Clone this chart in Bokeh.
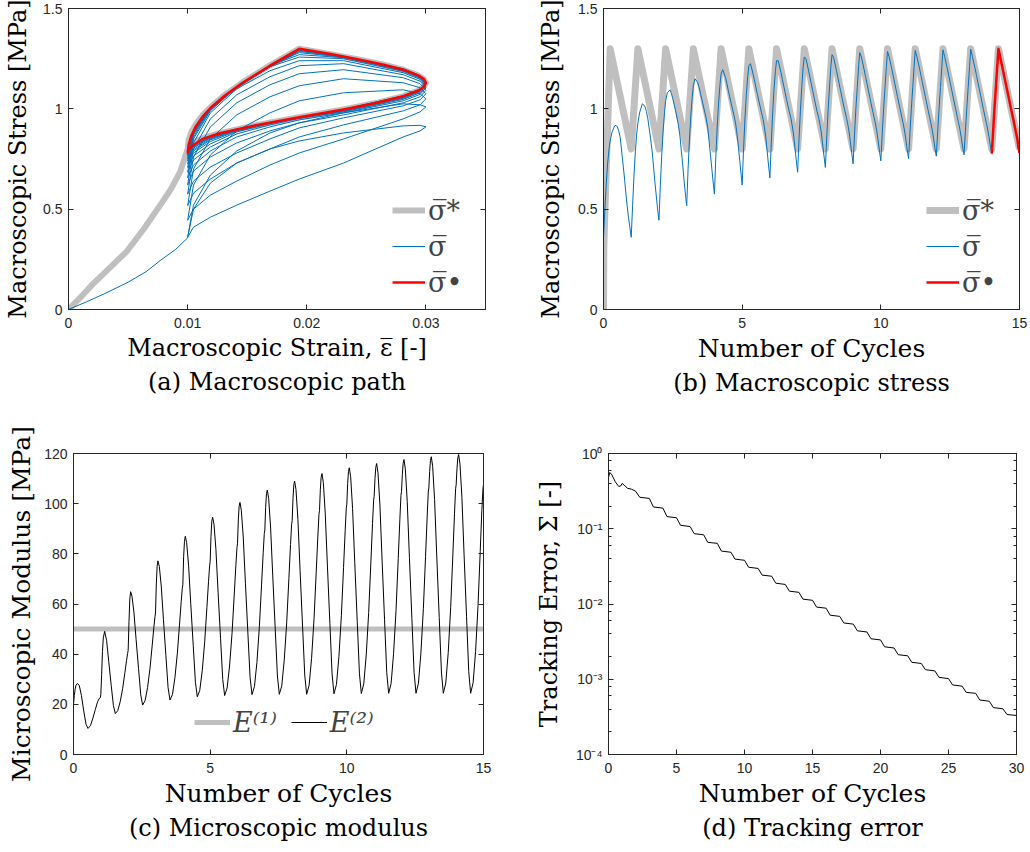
from bokeh.plotting import figure
from bokeh.models import (LinearAxis, LogAxis, FixedTicker, LogTicker, CustomJSTickFormatter,
                          Legend, LegendItem, Title, Range1d)
from bokeh.layouts import column, row
from bokeh.embed import file_html
from bokeh.resources import INLINE

# ---------------- data ----------------
# phase positions inside one loading cycle and the macroscopic strain at each phase
cycle_phase = [0.0, 0.05, 0.10, 0.15, 0.20, 0.24, 0.30, 0.40, 0.45, 0.50, 0.55, 0.60, 0.70, 0.76, 0.80, 0.85, 0.90, 0.95]
cycle_strain = [0.0100, 0.01049, 0.01191, 0.01412, 0.01691, 0.01937, 0.02309, 0.02809, 0.02951, 0.0300,
                0.02951, 0.02809, 0.02309, 0.01937, 0.01691, 0.01412, 0.01191, 0.01049]

# finer sampling of one cycle for the target sigma* and the converged sigma-dot loops
fine_phase = [0.0, 0.02, 0.04, 0.06, 0.08, 0.10, 0.13, 0.16, 0.20, 0.24, 0.28, 0.32, 0.36, 0.40, 0.44,
              0.47, 0.50, 0.53, 0.56, 0.60, 0.65, 0.70, 0.76, 0.82, 0.88, 0.92, 0.95, 0.98, 1.0]
fine_strain = [0.0100, 0.01008, 0.01031, 0.01070, 0.01124, 0.01191, 0.01316, 0.01464, 0.01691, 0.01937,
               0.02187, 0.02426, 0.02637, 0.02809, 0.02930, 0.02982, 0.0300, 0.02982, 0.02930, 0.02809,
               0.02588, 0.02309, 0.01937, 0.01574, 0.01271, 0.01124, 0.01049, 0.01008, 0.0100]
target_fine = [0.800, 0.842, 0.883, 0.925, 0.967, 1.008, 1.071, 1.133, 1.217, 1.300, 1.274, 1.247, 1.221,
               1.195, 1.168, 1.149, 1.129, 1.109, 1.089, 1.063, 1.030, 0.997, 0.958, 0.918, 0.879, 0.853,
               0.833, 0.813, 0.800]
converged_fine = [0.777, 0.820, 0.866, 0.914, 0.960, 1.004, 1.068, 1.131, 1.215, 1.299, 1.274, 1.247, 1.221,
                  1.195, 1.168, 1.149, 1.129, 1.109, 1.089, 1.063, 1.030, 0.997, 0.958, 0.918, 0.878, 0.850,
                  0.820, 0.795, 0.780]

# initial loading branch (strain 0 -> 0.01)
init_strain_target = [0.0, 0.0010, 0.0021, 0.0035, 0.0049, 0.0063, 0.0077, 0.0086, 0.0094, 0.0100]
init_stress_target = [0.0, 0.06, 0.13, 0.21, 0.29, 0.40, 0.52, 0.60, 0.69, 0.80]
init_strain_blue = [0.0, 0.0015, 0.0030, 0.0050, 0.0065, 0.0077, 0.0090, 0.0100]
init_stress_blue = [0.0, 0.038, 0.078, 0.136, 0.188, 0.244, 0.300, 0.357]

# macroscopic stress sigma, one row per cycle (cycles 0..13), at cycle_phase
stress_cycles = [
    [0.360, 0.50, 0.63, 0.73, 0.80, 0.84, 0.88, 0.915, 0.918, 0.910, 0.890, 0.860, 0.730, 0.650, 0.590, 0.520, 0.460, 0.410],
    [0.360, 0.52, 0.67, 0.79, 0.88, 0.93, 0.98, 1.025, 1.020, 1.010, 0.985, 0.950, 0.850, 0.780, 0.720, 0.640, 0.570, 0.500],
    [0.445, 0.62, 0.77, 0.89, 0.98, 1.04, 1.08, 1.095, 1.075, 1.050, 1.020, 0.990, 0.920, 0.860, 0.800, 0.730, 0.650, 0.580],
    [0.517, 0.70, 0.85, 0.97, 1.06, 1.115, 1.15, 1.130, 1.105, 1.075, 1.045, 1.015, 0.955, 0.905, 0.850, 0.780, 0.710, 0.640],
    [0.575, 0.76, 0.91, 1.03, 1.12, 1.175, 1.195, 1.155, 1.125, 1.092, 1.060, 1.030, 0.970, 0.930, 0.890, 0.830, 0.760, 0.690],
    [0.620, 0.80, 0.95, 1.07, 1.16, 1.215, 1.225, 1.170, 1.138, 1.104, 1.072, 1.040, 0.980, 0.945, 0.910, 0.860, 0.790, 0.720],
    [0.656, 0.83, 0.98, 1.10, 1.19, 1.240, 1.240, 1.180, 1.147, 1.113, 1.080, 1.047, 0.985, 0.952, 0.920, 0.875, 0.810, 0.745],
    [0.684, 0.85, 0.99, 1.11, 1.21, 1.258, 1.250, 1.187, 1.153, 1.119, 1.086, 1.052, 0.988, 0.955, 0.926, 0.885, 0.825, 0.765],
    [0.708, 0.86, 0.995, 1.11, 1.215, 1.270, 1.255, 1.191, 1.157, 1.123, 1.090, 1.056, 0.991, 0.957, 0.929, 0.890, 0.837, 0.780],
    [0.726, 0.87, 1.000, 1.105, 1.215, 1.280, 1.258, 1.194, 1.160, 1.126, 1.093, 1.059, 0.993, 0.955, 0.930, 0.893, 0.845, 0.790],
    [0.741, 0.875, 1.000, 1.105, 1.210, 1.286, 1.259, 1.196, 1.162, 1.128, 1.095, 1.061, 0.995, 0.956, 0.931, 0.895, 0.850, 0.797],
    [0.752, 0.880, 1.000, 1.105, 1.210, 1.291, 1.260, 1.198, 1.164, 1.130, 1.097, 1.063, 0.996, 0.957, 0.931, 0.897, 0.855, 0.805],
    [0.764, 0.885, 1.002, 1.106, 1.210, 1.294, 1.261, 1.199, 1.165, 1.131, 1.098, 1.064, 0.997, 0.957, 0.932, 0.898, 0.858, 0.810],
    [0.771, 0.890, 1.003, 1.108, 1.212, 1.297, 1.261, 1.200, 1.166, 1.132, 1.099, 1.065, 0.997, 0.958, 0.932, 0.899, 0.861, 0.815],
]

# target stress vs cycles (vertices)
target_t = [0.0, 0.01, 0.04, 0.24, 1.0, 1.24, 2.0, 2.24, 3.0, 3.24, 4.0, 4.24, 5.0, 5.24, 6.0, 6.24, 7.0, 7.24,
            8.0, 8.24, 9.0, 9.24, 10.0, 10.24, 11.0, 11.24, 12.0, 12.24, 13.0, 13.24, 14.0, 14.24, 15.0]
target_s = [0.0, 0.30, 0.45, 1.30, 0.80, 1.30, 0.80, 1.30, 0.80, 1.30, 0.80, 1.30, 0.80, 1.30, 0.80, 1.30, 0.80, 1.30,
            0.80, 1.30, 0.80, 1.30, 0.80, 1.30, 0.80, 1.30, 0.80, 1.30, 0.80, 1.30, 0.80, 1.30, 0.80]

# microscopic modulus E(2), one row per cycle (0..14), at modulus_phase
modulus_phase = [0.0, 0.03, 0.06, 0.09, 0.14, 0.21, 0.29, 0.38, 0.46, 0.53, 0.62, 0.71, 0.80, 0.88, 0.94, 0.98]
modulus_cycles = [
    [20.0, 23.5, 26.0, 27.6, 28.3, 27.6, 23.5, 17.0, 12.0, 10.4, 11.5, 14.5, 18.0, 21.0, 22.3, 22.6],
    [24.0, 32.0, 41.0, 46.5, 49.1, 45.5, 37.0, 27.5, 19.5, 16.3, 17.5, 21.1, 26.4, 32.6, 37.4, 40.3],
    [41.5, 53.0, 62.0, 64.9, 63.1, 56.8, 45.9, 34.2, 23.8, 19.7, 21.5, 26.7, 34.5, 43.6, 50.7, 54.9],
    [56.4, 68.0, 75.0, 77.2, 75.0, 67.2, 53.9, 39.5, 26.7, 21.7, 23.9, 30.6, 40.4, 52.0, 60.9, 66.2],
    [67.7, 79.0, 85.0, 87.0, 84.4, 75.5, 60.1, 43.5, 28.8, 23.0, 25.6, 33.4, 44.9, 58.5, 68.9, 75.2],
    [77.0, 87.0, 93.0, 94.6, 91.8, 81.8, 64.7, 46.3, 29.9, 23.5, 26.5, 35.3, 48.3, 63.6, 75.4, 82.5],
    [84.0, 93.5, 99.0, 100.5, 97.4, 86.7, 68.3, 48.4, 30.8, 23.9, 27.1, 36.7, 50.9, 67.6, 80.4, 88.1],
    [89.5, 98.5, 104.0, 105.4, 102.1, 90.7, 71.2, 50.0, 31.3, 24.0, 27.4, 37.6, 52.5, 70.1, 83.7, 91.8],
    [93.2, 102.0, 107.5, 109.0, 105.6, 93.7, 73.3, 51.2, 31.7, 24.0, 27.6, 38.3, 54.1, 72.8, 87.1, 95.7],
    [97.2, 105.5, 110.5, 112.0, 108.5, 96.2, 75.1, 52.3, 32.1, 24.2, 27.9, 39.0, 55.3, 74.6, 89.4, 98.3],
    [99.8, 108.0, 112.8, 114.3, 110.7, 98.1, 76.5, 53.1, 32.4, 24.3, 28.2, 39.7, 56.7, 76.7, 92.1, 101.4],
    [102.9, 110.0, 114.5, 116.0, 112.3, 99.5, 77.5, 53.7, 32.6, 24.4, 28.3, 40.2, 57.5, 78.1, 93.8, 103.3],
    [104.8, 111.5, 116.0, 117.6, 113.9, 100.8, 78.5, 54.2, 32.8, 24.4, 28.4, 40.5, 58.1, 79.0, 95.1, 104.7],
    [106.2, 112.8, 117.2, 118.7, 114.9, 101.7, 79.1, 54.6, 32.9, 24.4, 28.5, 40.7, 58.7, 79.9, 96.2, 106.0],
    [107.5, 114.0, 118.2, 119.6, 115.8, 102.5, 79.6, 54.9, 33.0, 24.4, 28.6, 41.0, 59.4, 81.0, 97.6, 106.0],
]
modulus_end_t = 15.0
modulus_end = 107.5
E1_t = [0.0, 15.0]
E1_vals = [50.0, 50.0]

# tracking error vs cycles
error_t = [0.0, 0.1, 0.25, 0.5, 0.75, 0.9, 1.0, 1.15, 1.4, 1.7, 2.0,
           2.3, 3.0, 3.3, 4.0, 4.3, 5.0, 5.3, 6.0, 6.3, 7.0, 7.3, 8.0, 8.3, 9.0, 9.3, 10.0,
           10.3, 11.0, 11.3, 12.0, 12.3, 13.0, 13.3, 14.0, 14.3, 15.0, 15.3, 16.0, 16.3, 17.0,
           17.3, 18.0, 18.3, 19.0, 19.3, 20.0, 20.3, 21.0, 21.3, 22.0, 22.3, 23.0, 23.3, 24.0,
           24.3, 25.0, 25.3, 26.0, 26.3, 27.0, 27.3, 28.0, 28.3, 29.0, 29.3, 30.0]
error_v = [0.48, 0.56, 0.52, 0.42, 0.365, 0.37, 0.40, 0.38, 0.345, 0.335, 0.315,
           0.262, 0.253, 0.195, 0.188, 0.145, 0.140, 0.111, 0.107, 0.086, 0.083, 0.066, 0.064, 0.0505, 0.0487,
           0.0395, 0.0381, 0.0308, 0.0297, 0.0242, 0.0234, 0.0189, 0.0182, 0.0148, 0.0143, 0.0116, 0.0112,
           0.0091, 0.0088, 0.0071, 0.00685, 0.0056, 0.0054, 0.0044, 0.00425, 0.00345, 0.00333, 0.0027, 0.0026,
           0.00212, 0.00205, 0.00168, 0.00162, 0.00134, 0.00129, 0.00106, 0.00102, 0.00084, 0.00081,
           0.00067, 0.00065, 0.00053, 0.00051, 0.00042, 0.000405, 0.00034, 0.00033]

# tick labels
ticks_a_x = [0, 0.01, 0.02, 0.03]
ticks_stress = [0, 0.5, 1, 1.5]
ticks_cycles15 = [0, 5, 10, 15]
ticks_modulus = [0, 20, 40, 60, 80, 100, 120]
ticks_cycles30 = [0, 5, 10, 15, 20, 25, 30]

# ---------------- styling ----------------
SERIF = "DejaVu Serif"
SANS = "Liberation Sans"
AXC = "#262626"
GRAY = "#bfbfbf"
BLUE = "#0072bd"
RED = "#ff0000"

num_fmt = CustomJSTickFormatter(code="return String(Number(tick.toPrecision(6)));")
blank_fmt = CustomJSTickFormatter(code="return '';")
log_fmt = CustomJSTickFormatter(code="""
const s = {"-":"\u207b","0":"\u2070","1":"\u00b9","2":"\u00b2","3":"\u00b3","4":"\u2074","5":"\u2075","6":"\u2076","7":"\u2077","8":"\u2078","9":"\u2079"};
const e = Math.round(Math.log10(tick));
return "10" + String(e).split("").map(c => s[c]).join("");
""")


def style_axis(ax, labels=True, minor=False, lab_standoff=6):
    ax.axis_line_color = AXC
    ax.axis_line_width = 1
    ax.major_tick_line_color = AXC
    ax.major_tick_in = 5
    ax.major_tick_out = 0
    if minor:
        ax.minor_tick_line_color = AXC
        ax.minor_tick_in = 3
        ax.minor_tick_out = 0
    else:
        ax.minor_tick_line_color = None
    ax.major_label_text_font = SANS
    if labels:
        ax.major_label_text_color = AXC
        ax.major_label_text_font_size = "14px"
        ax.major_label_standoff = lab_standoff
    else:
        ax.formatter = blank_fmt
        ax.major_label_text_color = None
        ax.major_label_text_font_size = "1px"
        ax.major_label_standoff = 0
    ax.axis_label_text_font = SERIF
    ax.axis_label_text_font_size = "25px"
    ax.axis_label_text_font_style = "normal"
    ax.axis_label_text_color = "black"


def make_fig(xr, yr, w, h, bl, br, bt, bb, xticks, yticks, xlab, ylab, caption, ylog=False,
             y_lab_standoff=8, xlab_size="25px", ylab_size="24px"):
    kw = dict(width=w, height=h, x_range=Range1d(*xr), y_range=Range1d(*yr),
              output_backend="svg", toolbar_location=None,
              min_border_left=bl, min_border_right=br, min_border_top=bt, min_border_bottom=bb)
    if ylog:
        kw["y_axis_type"] = "log"
    p = figure(**kw)
    p.grid.visible = False
    p.outline_line_color = AXC
    p.background_fill_color = "white"
    p.border_fill_color = "white"

    xa = p.xaxis[0]
    xa.ticker = FixedTicker(ticks=xticks)
    xa.formatter = num_fmt
    style_axis(xa, labels=True, lab_standoff=8)
    xa.axis_label = xlab
    xa.axis_label_standoff = 3
    xa.axis_label_text_font_size = xlab_size

    ya = p.yaxis[0]
    if ylog:
        ya.ticker = LogTicker()
        ya.formatter = log_fmt
        style_axis(ya, labels=True, minor=True, lab_standoff=6)
    else:
        ya.ticker = FixedTicker(ticks=yticks)
        ya.formatter = num_fmt
        style_axis(ya, labels=True, lab_standoff=6)
    ya.axis_label = ylab
    ya.axis_label_standoff = y_lab_standoff
    ya.axis_label_text_font_size = ylab_size

    top = LinearAxis(ticker=FixedTicker(ticks=xticks))
    style_axis(top, labels=False)
    p.add_layout(top, "above")
    if ylog:
        right = LogAxis(ticker=LogTicker())
        style_axis(right, labels=False, minor=True)
    else:
        right = LinearAxis(ticker=FixedTicker(ticks=yticks))
        style_axis(right, labels=False)
    p.add_layout(right, "right")

    p.add_layout(Title(text=caption, align="center", text_font=SERIF, text_font_size="24px",
                       text_font_style="normal", text_color="black", standoff=3), "below")
    return p


def legend(items, loc, orientation="vertical", spacing=0, glyph_width=33, style="normal"):
    lg = Legend(items=items, location=loc, orientation=orientation,
                glyph_width=glyph_width, glyph_height=36, label_height=36,
                label_text_font=SERIF, label_text_font_size="27px", label_standoff=3,
                label_text_font_style=style,
                spacing=spacing, padding=0, margin=0,
                border_line_color=None, background_fill_alpha=0)
    return lg


LAB_TARGET = "\u03c3\u0305*"
LAB_SIGMA = "\u03c3\u0305"
LAB_CONV = "\u03c3\u0305\u2022"

# ---------------- (a) macroscopic path ----------------
pa = make_fig((0, 0.035), (0, 1.5), 515, 420, 68, 30, 8, 111, ticks_a_x, ticks_stress,
              "Macroscopic Strain, \u03b5\u0305 [-]", "Macroscopic Stress [MPa]", "(a) Macroscopic path",
              xlab_size="24px", ylab_size="24px")

gx = list(init_strain_target) + list(fine_strain)
gy = list(init_stress_target) + list(target_fine)
ra_g = pa.line(gx, gy, line_color=GRAY, line_width=6, line_join="round")

bx = list(init_strain_blue)
by = list(init_stress_blue)
for rowv in stress_cycles:
    bx += list(cycle_strain)
    by += list(rowv)
bx.append(cycle_strain[0])
by.append(converged_fine[0])
ra_b = pa.line(bx, by, line_color=BLUE, line_width=1)

ra_r = pa.line(fine_strain, converged_fine, line_color=RED, line_width=2.5, line_join="round")

pa.add_layout(legend([LegendItem(label=LAB_TARGET, renderers=[ra_g]),
                      LegendItem(label=LAB_SIGMA, renderers=[ra_b]),
                      LegendItem(label=LAB_CONV, renderers=[ra_r])], (324, 9)))

# ---------------- (b) macroscopic stress ----------------
pb = make_fig((0, 15), (0, 1.5), 515, 420, 88, 11, 8, 111, ticks_cycles15, ticks_stress,
              "Number of Cycles", "Macroscopic Stress [MPa]", "(b) Macroscopic stress",
              y_lab_standoff=10, ylab_size="24px")
rb_g = pb.line(target_t, target_s, line_color=GRAY, line_width=7, line_join="round")
tb = [0.0]
sb = [0.0]
for k, rowv in enumerate(stress_cycles):
    tb += [k + ph for ph in cycle_phase]
    sb += list(rowv)
n_blue = len(stress_cycles)
tb.append(float(n_blue))
sb.append(converged_fine[0])
rb_b = pb.line(tb, sb, line_color=BLUE, line_width=1)
tr = [n_blue + ph for ph in fine_phase]
rb_r = pb.line(tr, converged_fine, line_color=RED, line_width=2.5, line_join="round")
pb.add_layout(legend([LegendItem(label=LAB_TARGET, renderers=[rb_g]),
                      LegendItem(label=LAB_SIGMA, renderers=[rb_b]),
                      LegendItem(label=LAB_CONV, renderers=[rb_r])], (323, 9)))

# ---------------- (c) microscopic modulus ----------------
pc = make_fig((0, 15), (0, 120), 515, 432, 73, 32, 33, 98, ticks_cycles15, ticks_modulus,
              "Number of Cycles", "Microscopic Modulus [MPa]", "(c) Microscopic modulus",
              y_lab_standoff=5, ylab_size="25px")
rc_1 = pc.line(E1_t, E1_vals, line_color=GRAY, line_width=5)
tc = []
ec = []
for k, rowv in enumerate(modulus_cycles):
    tc += [k + q for q in modulus_phase]
    ec += list(rowv)
tc.append(modulus_end_t)
ec.append(modulus_end)
rc_2 = pc.line(tc, ec, line_color="black", line_width=1)
pc.add_layout(legend([LegendItem(label="E\u207d\u00b9\u207e", renderers=[rc_1]),
                      LegendItem(label="E\u207d\u00b2\u207e", renderers=[rc_2])], (121, 14),
                     orientation="horizontal", spacing=14, glyph_width=36, style="italic"))

# ---------------- (d) tracking error ----------------
pd_ = make_fig((0, 30), (1e-4, 1), 515, 432, 93, 14, 33, 98, ticks_cycles30, None,
               "Number of Cycles", "Tracking Error, \u03a3 [-]", "(d) Tracking error", ylog=True,
               y_lab_standoff=10, ylab_size="24px")
pd_.line(error_t, error_v, line_color="black", line_width=1)

layout = column(row(pa, pb), row(pc, pd_))
open("out.html", "w").write(file_html(layout, INLINE))
